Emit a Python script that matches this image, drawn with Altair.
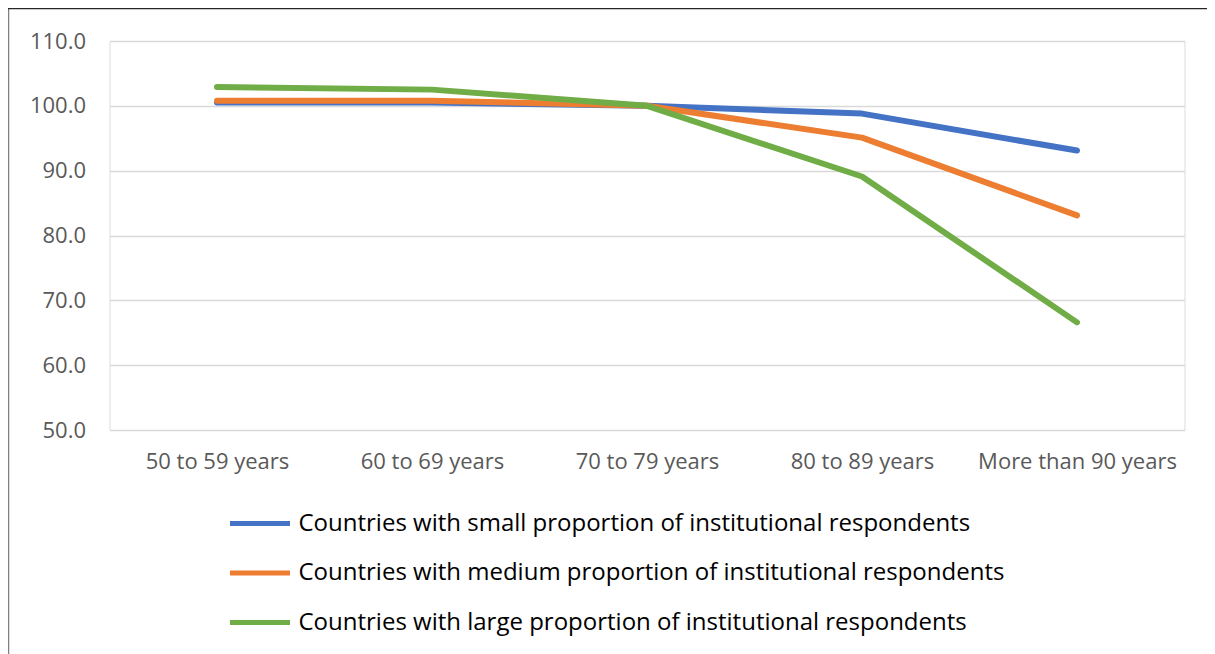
import altair as alt
import pandas as pd

categories = ["50 to 59 years", "60 to 69 years", "70 to 79 years", "80 to 89 years", "More than 90 years"]
series_names = [
    "Countries with small proportion of institutional respondents",
    "Countries with medium proportion of institutional respondents",
    "Countries with large proportion of institutional respondents",
]
small = [100.5, 100.5, 100.0, 98.8, 93.1]
medium = [100.8, 100.8, 100.0, 95.1, 83.1]
large = [102.9, 102.5, 100.0, 89.1, 66.6]
colors = ["#4472C4", "#ED7D31", "#70AD47"]

rows = []
for name, vals in zip(series_names, [small, medium, large]):
    for c, v in zip(categories, vals):
        rows.append({"age": c, "value": v, "series": name})
df = pd.DataFrame(rows)

FONT = "Open Sans"

lines = alt.Chart(df).mark_line(strokeWidth=6, strokeCap="round", strokeJoin="round").encode(
    x=alt.X("age:N", sort=categories, title=None,
            scale=alt.Scale(paddingOuter=0.5, paddingInner=0),
            axis=alt.Axis(labelAngle=0, labelFontSize=22, labelColor="#595959", labelFont=FONT,
                          labelPadding=21, labelLimit=400, domain=False, ticks=False, grid=False)),
    y=alt.Y("value:Q", title=None,
            scale=alt.Scale(domain=[50, 110], nice=False, zero=False),
            axis=alt.Axis(values=[50, 60, 70, 80, 90, 100, 110], format=".1f", labelFontSize=22,
                          labelColor="#595959", labelFont=FONT, labelPadding=24,
                          domain=False, ticks=False, grid=True, gridColor="#D9D9D9", gridWidth=1.5)),
    color=alt.Color("series:N", sort=series_names,
                    scale=alt.Scale(domain=series_names, range=colors),
                    legend=alt.Legend(title=None, orient="none", legendX=118, legendY=450,
                                      direction="vertical", symbolType="stroke", symbolSize=3600,
                                      symbolStrokeWidth=5, labelFontSize=24, labelFont=FONT,
                                      labelColor="#000000", labelOffset=6, rowPadding=4.5,
                                      labelLimit=1000)),
    order=alt.Order("series:N"),
)

frame_src = pd.DataFrame({"k": [0]})
left_border = alt.Chart(frame_src).mark_rule(color="#7F7F7F", strokeWidth=1.5).encode(
    x=alt.value(-101), y=alt.value(-33), y2=alt.value(613))
top_border = alt.Chart(frame_src).mark_rule(color="#262626", strokeWidth=1.5).encode(
    x=alt.value(-101.5), x2=alt.value(1110), y=alt.value(-32.5))

chart = alt.layer(lines, left_border, top_border).properties(
    width=1075, height=389,
    padding={"left": 101.5, "top": 33, "right": 22.5, "bottom": 224},
    autosize=alt.AutoSizeParams(type="none"),
).configure_view(stroke=None).configure(background="white")

chart.save("out.html", embed_options={"renderer": "svg", "actions": False})
